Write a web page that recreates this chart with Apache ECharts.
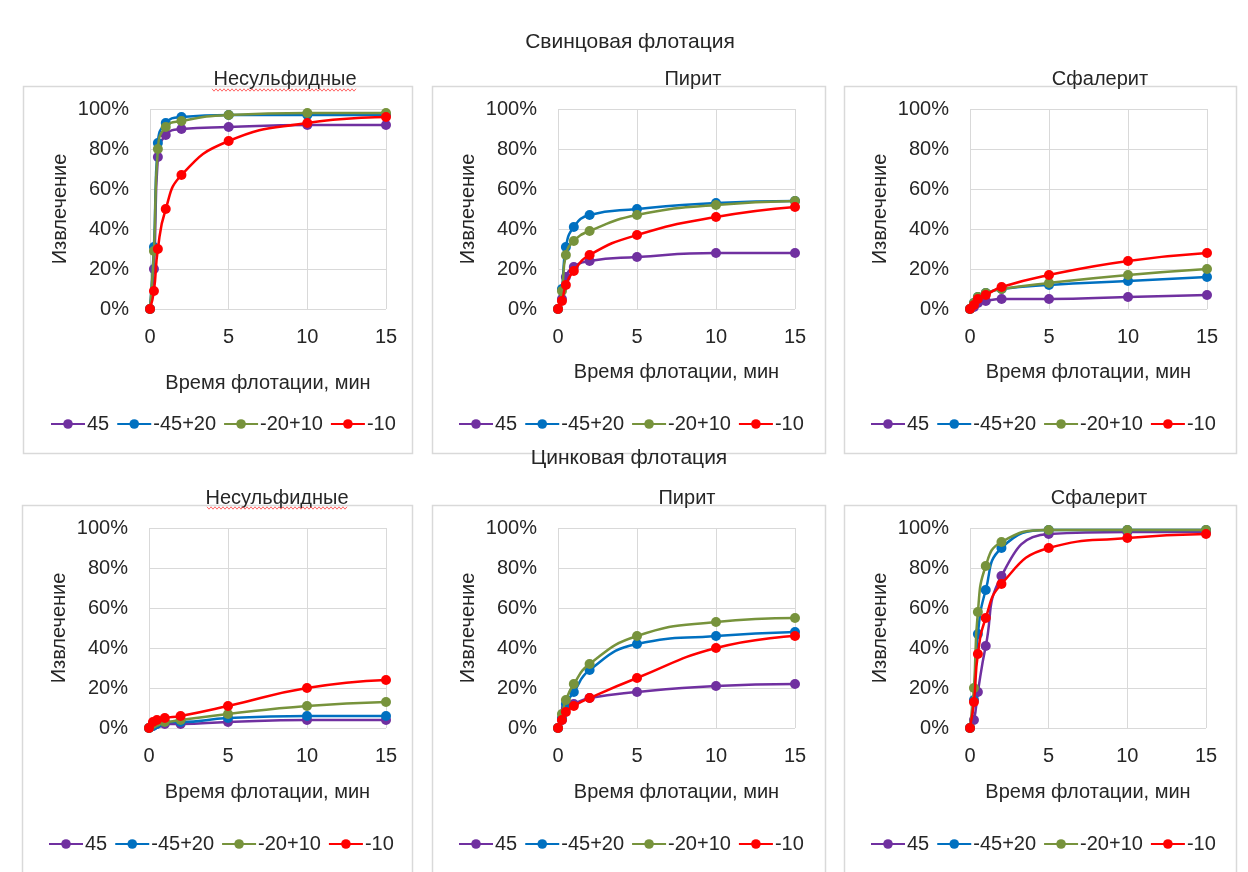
<!DOCTYPE html>
<html>
<head>
<meta charset="utf-8">
<script src="https://cdn.jsdelivr.net/npm/echarts@6/dist/echarts.min.js"></script>
<style>
    html, body { margin: 0; padding: 0; background: #fff; }
    #chart { width: 1248px; height: 872px; }
</style>
</head>
<body>
<div id="chart"></div>
<script>
const FONT = '"Liberation Sans", Arial, sans-serif';
const TEXT_COLOR = '#262626';
const GRID_COLOR = '#d9d9d9';

// время флотации, мин
const times = [0, 0.25, 0.5, 1, 2, 5, 10, 15];
const fractions = ['45', '-45+20', '-20+10', '-10'];
const colors = ['#7030a0', '#0070c0', '#77933c', '#ff0000'];
const xTicks = [0, 5, 10, 15];
const yTicks = [0, 20, 40, 60, 80, 100];

const sectionTitles = ['Свинцовая флотация', 'Цинковая флотация'];
const panelTitles = ['Несульфидные', 'Пирит', 'Сфалерит', 'Несульфидные', 'Пирит', 'Сфалерит'];

// извлечение, %  (45, -45+20, -20+10, -10)
const leadNonSulfide = [
    [0, 20, 76, 87, 90, 91, 92, 92],
    [0, 31, 83, 93, 96, 97, 97, 97],
    [0, 29, 80, 91, 94, 97, 98, 98],
    [0, 9, 30, 50, 67, 84, 93, 96]
];
const leadPyrite = [
    [0, 5, 16, 21, 24, 26, 28, 28],
    [0, 10, 31, 41, 47, 50, 53, 54],
    [0, 9, 27, 34, 39, 47, 52, 54],
    [0, 4, 12, 19, 27, 37, 46, 51]
];
const leadSphalerite = [
    [0, 1, 3, 4, 5, 5, 6, 7],
    [0, 3, 6, 8, 10, 12, 14, 16],
    [0, 3, 6, 8, 10, 13, 17, 20],
    [0, 2, 5, 7, 11, 17, 24, 28]
];
const zincNonSulfide = [
    [0, 1, 2, 2, 2, 3, 4, 4],
    [0, 1, 2, 3, 3, 5, 6, 6],
    [0, 2, 3, 3, 4, 7, 11, 13],
    [0, 3, 4, 5, 6, 11, 20, 24]
];
const zincPyrite = [
    [0, 4, 10, 12, 15, 18, 21, 22],
    [0, 5, 12, 18, 29, 42, 46, 48],
    [0, 7, 14, 22, 32, 46, 53, 55],
    [0, 4, 8, 11, 15, 25, 40, 46]
];
const zincSphalerite = [
    [0, 4, 18, 41, 76, 97, 98, 98],
    [0, 14, 47, 69, 90, 99, 99, 99],
    [0, 20, 58, 81, 93, 99, 99, 99],
    [0, 13, 37, 55, 72, 90, 95, 97]
];
const panelData = [leadNonSulfide, leadPyrite, leadSphalerite, zincNonSulfide, zincPyrite, zincSphalerite];

// layout of each panel: plot area, outer frame, legend, title
const panels = [
    { left: 150, top: 109, width: 236, frame: [23, 86, 389, 367], legendLeft: 50, legendTop: 414, xNameGap: 64, title: [285, 79], squiggle: [212, 356, 90] },
    { left: 558, top: 109, width: 237, frame: [432, 86, 393, 367], legendLeft: 458, legendTop: 414, xNameGap: 53, title: [693, 79] },
    { left: 970, top: 109, width: 237, frame: [844, 86, 392, 367], legendLeft: 870, legendTop: 414, xNameGap: 53, title: [1100, 79] },
    { left: 149, top: 528, width: 237, frame: [22, 505, 390, 380], legendLeft: 48, legendTop: 834, xNameGap: 54, title: [277, 498], squiggle: [207, 348, 508] },
    { left: 558, top: 528, width: 237, frame: [432, 505, 393, 380], legendLeft: 458, legendTop: 834, xNameGap: 54, title: [687, 498] },
    { left: 970, top: 528, width: 236, frame: [844, 505, 392, 380], legendLeft: 870, legendTop: 834, xNameGap: 54, title: [1099, 498] }
];

function squigglePoints(x0, x1, y) {
    const pts = [];
    let up = true;
    for (let x = x0; x <= x1; x += 2) {
        pts.push([x, up ? y - 1.2 : y + 1.2]);
        up = !up;
    }
    return pts;
}

const graphics = [];
panels.forEach((p, i) => {
    graphics.push({
        type: 'rect',
        z: -1,
        shape: { x: p.frame[0] + 0.5, y: p.frame[1] + 0.5, width: p.frame[2], height: p.frame[3] },
        style: { fill: '#fff', stroke: GRID_COLOR, lineWidth: 1.5 }
    });
    graphics.push({
        type: 'text',
        x: p.title[0],
        y: p.title[1],
        style: {
            text: panelTitles[i],
            font: `20px ${FONT}`,
            fill: TEXT_COLOR,
            textAlign: 'center',
            textVerticalAlign: 'middle'
        }
    });
    if (p.squiggle) {
        graphics.push({
            type: 'polyline',
            shape: { points: squigglePoints(p.squiggle[0], p.squiggle[1], p.squiggle[2]) },
            style: { stroke: '#ff4040', lineWidth: 0.8, fill: null }
        });
    }
});
[[630, 42], [629, 458]].forEach(([x, y], i) => {
    graphics.push({
        type: 'text',
        x,
        y,
        style: {
            text: sectionTitles[i],
            font: `21px ${FONT}`,
            fill: TEXT_COLOR,
            textAlign: 'center',
            textVerticalAlign: 'middle'
        }
    });
});

const option = {
    backgroundColor: '#fff',
    animation: false,
    textStyle: { fontFamily: FONT },
    graphic: graphics,
    legend: panels.map(p => ({
        left: p.legendLeft,
        top: p.legendTop,
        padding: 0,
        data: fractions,
        itemWidth: 34,
        itemHeight: 12,
        itemGap: 7,
        textStyle: { fontSize: 20, color: TEXT_COLOR, fontFamily: FONT, padding: [0, 0, 0, -3] },
        selectedMode: false
    })),
    grid: panels.map(p => ({
        left: p.left,
        top: p.top,
        width: p.width,
        height: 200,
        containLabel: false
    })),
    xAxis: panels.map((p, i) => ({
        type: 'value',
        gridIndex: i,
        min: xTicks[0],
        max: xTicks[xTicks.length - 1],
        interval: xTicks[1] - xTicks[0],
        name: 'Время флотации, мин',
        nameLocation: 'middle',
        nameGap: p.xNameGap,
        nameTextStyle: { fontSize: 20, color: TEXT_COLOR, fontFamily: FONT },
        axisLine: { show: false },
        axisTick: { show: false },
        axisLabel: { fontSize: 20, color: TEXT_COLOR, margin: 18, fontFamily: FONT },
        splitLine: { show: true, lineStyle: { color: GRID_COLOR, width: 1 } }
    })),
    yAxis: panels.map((p, i) => ({
        type: 'value',
        gridIndex: i,
        min: yTicks[0],
        max: yTicks[yTicks.length - 1],
        interval: yTicks[1] - yTicks[0],
        name: 'Извлечение',
        nameLocation: 'middle',
        nameGap: 80,
        nameTextStyle: { fontSize: 20, color: TEXT_COLOR, fontFamily: FONT },
        axisLine: { show: false },
        axisTick: { show: false },
        axisLabel: { fontSize: 20, color: TEXT_COLOR, margin: 21, formatter: '{value}%', fontFamily: FONT },
        splitLine: { show: true, lineStyle: { color: GRID_COLOR, width: 1 } }
    })),
    series: []
};

panelData.forEach((sets, i) => {
    sets.forEach((values, k) => {
        option.series.push({
            name: fractions[k],
            type: 'line',
            xAxisIndex: i,
            yAxisIndex: i,
            data: times.map((t, j) => [t, values[j]]),
            smooth: 0.5,
            symbol: 'circle',
            symbolSize: 10,
            showSymbol: true,
            color: colors[k],
            lineStyle: { width: 2.5, color: colors[k] },
            itemStyle: { color: colors[k] },
            z: 2 + k
        });
    });
});

const chart = echarts.init(document.getElementById('chart'));
chart.setOption(option);
window.addEventListener('resize', () => chart.resize());
</script>
</body>
</html>
